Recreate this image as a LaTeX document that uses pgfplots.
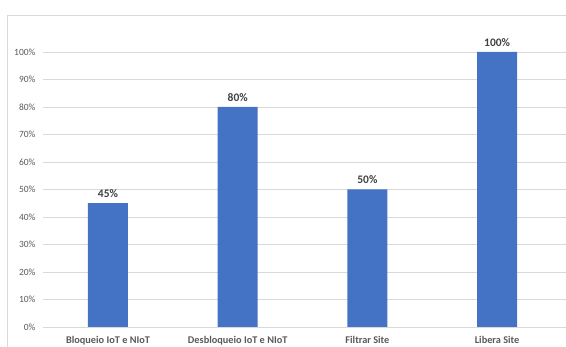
\documentclass[border=0pt]{standalone}
\usepackage{pgfplots}
\pgfplotsset{compat=1.18}
\usepackage{fontspec}
\setmainfont{Carlito}
\definecolor{barblue}{HTML}{4472C4}
\definecolor{gridgray}{HTML}{D9D9D9}
\definecolor{ticktext}{HTML}{595959}
\definecolor{labeltext}{HTML}{404040}
\begin{document}
\begin{tikzpicture}[x=1pt,y=1pt]
\draw[gridgray, line width=0.8pt] (7,-20) -- (7,332) -- (600,332);
\begin{axis}[
  at={(43pt,20pt)}, anchor=south west,
  scale only axis,
  width=523pt, height=302.5pt,
  xmin=-0.501, xmax=3.531,
  ymin=0, ymax=110,
  axis line style={draw=none},
  ybar, bar width=40pt,
  ytick={0,10,...,100},
  ymajorgrids=true,
  grid style={gridgray, line width=0.8pt},
  xtick={0,1,2,3},
  xticklabels={Bloqueio IoT e NIoT, Desbloqueio IoT e NIoT, Filtrar Site, Libera Site},
  major tick length=0pt,
  tick style={draw=none},
  /pgf/number format/assume math mode=true,
  yticklabel={\pgfmathprintnumber[fixed,precision=0]{\tick}\%},
  yticklabel style={font=\fontsize{9.5}{11}\selectfont, text=ticktext, xshift=-4pt},
  xticklabel style={font=\fontsize{10.3}{12}\selectfont\bfseries, text=ticktext, yshift=-6pt},
  nodes near coords={\pgfmathprintnumber[fixed,precision=0]{\pgfplotspointmeta}\%},
  nodes near coords style={font=\fontsize{11.5}{13}\selectfont\bfseries, text=labeltext, yshift=2pt},
  clip=false,
]
\addplot[fill=barblue, draw=none] coordinates {(0,45) (1,80) (2,50) (3,100)};
\end{axis}
\pgfresetboundingbox
\useasboundingbox (0,0) rectangle (566,347);
\end{tikzpicture}
\end{document}
